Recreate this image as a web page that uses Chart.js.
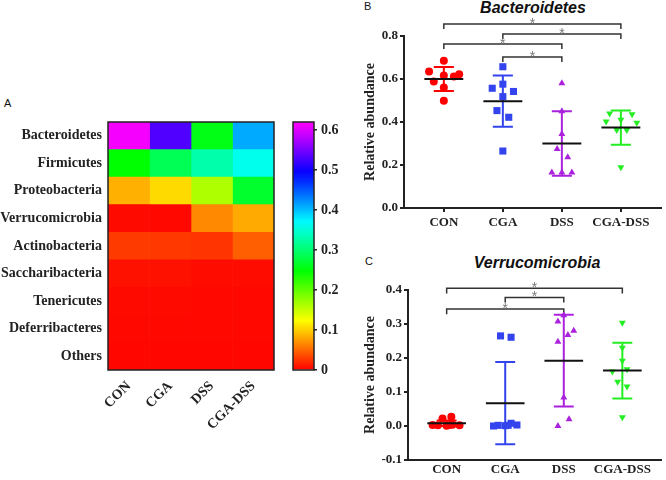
<!DOCTYPE html>
<html>
<head>
<meta charset="utf-8">
<script src="https://cdn.jsdelivr.net/npm/chart.js@4"></script>
<style>
  body { margin: 0; width: 666px; height: 480px; background: #fff; position: relative; overflow: hidden; font-family: 'Liberation Sans', Arial, sans-serif; }
  canvas { position: absolute; }
  .tag { position: absolute; font-size: 11px; color: #111; }
  .title { position: absolute; width: 200px; text-align: center; font: italic bold 16px 'Liberation Sans', Arial, sans-serif; color: #111; }
</style>
</head>
<body>
<div class="tag" style="left:4px;top:97px">A</div>
<div class="tag" style="left:364px;top:0px">B</div>
<div class="tag" style="left:365px;top:255px">C</div>
<div class="title" style="left:433px;top:-1px">Bacteroidetes</div>
<div class="title" style="left:437px;top:254px">Verrucomicrobia</div>
<canvas id="heat" width="280" height="380" style="left:0;top:100px"></canvas>
<canvas id="cbar" width="70" height="380" style="left:280px;top:100px"></canvas>
<canvas id="bact" width="326" height="240" style="left:340px;top:0"></canvas>
<canvas id="verr" width="326" height="240" style="left:340px;top:240px"></canvas>
<script>
// --- data ---
const groups = ['CON', 'CGA', 'DSS', 'CGA-DSS'];
const phyla = ['Bacteroidetes', 'Firmicutes', 'Proteobacteria', 'Verrucomicrobia', 'Actinobacteria',
               'Saccharibacteria', 'Tenericutes', 'Deferribacteres', 'Others'];

// heatmap: mean relative abundance per phylum (one array per group)
const heatCon    = [0.61, 0.246, 0.085, 0.005, 0.028, 0.008, 0.005, 0.004, 0.003];
const heatCga    = [0.53, 0.287, 0.105, 0.004, 0.027, 0.008, 0.005, 0.004, 0.003];
const heatDss    = [0.256, 0.328, 0.162, 0.066, 0.025, 0.006, 0.004, 0.004, 0.003];
const heatCgaDss = [0.41, 0.36, 0.267, 0.082, 0.046, 0.006, 0.004, 0.004, 0.003];
const colorTicks = [0, 0.1, 0.2, 0.3, 0.4, 0.5, 0.6];
const colorMax = 0.62;

// B: Bacteroidetes per mouse, horizontal jitter, mean and SD
const bactValues = [
  [0.685, 0.635, 0.616, 0.622, 0.612, 0.588, 0.56, 0.499],
  [0.657, 0.557, 0.576, 0.542, 0.518, 0.453, 0.422, 0.265],
  [0.58, 0.45, 0.344, 0.274, 0.236, 0.165, 0.165, 0.165],
  [0.44, 0.436, 0.402, 0.41, 0.397, 0.363, 0.363, 0.19]
];
const bactJitter = [
  [0, -0.25, 0, 0.26, 0.17, -0.17, 0, 0],
  [0, -0.18, 0, 0.18, 0, -0.1, 0.1, 0],
  [0, 0, 0, -0.08, 0.1, -0.17, 0, 0.17],
  [-0.19, 0.19, -0.25, 0, 0.27, -0.07, 0.1, 0]
];
const bactMean = [0.60, 0.497, 0.30, 0.374];
const bactSd = [0.056, 0.119, 0.15, 0.08];
const bactPairs = [[0, 3], [1, 3], [0, 2], [1, 2]];
const bactBracketY = [0.856, 0.809, 0.763, 0.702];
const bactTicks = [0, 0.2, 0.4, 0.6, 0.8];

// C: Verrucomicrobia
const verrValues = [
  [0.022, 0.027, 0.003, 0.002, 0.001, 0.004, 0.002, 0.003],
  [0.265, 0.261, 0.002, 0.001, 0.008, 0.0, 0.003, 0.002],
  [0.326, 0.307, 0.28, 0.268, 0.248, 0.084, 0.02, 0.0],
  [0.304, 0.23, 0.192, 0.16, 0.167, 0.13, 0.116, 0.026]
];
const verrJitter = [
  [-0.07, 0.08, -0.24, -0.15, 0, 0.1, 0.22, 0.05],
  [-0.08, 0.1, -0.12, 0, 0.1, -0.2, 0.2, 0.05],
  [0, -0.1, 0.17, 0.07, -0.1, 0, 0.09, -0.1],
  [0, 0, 0, -0.17, 0.08, -0.08, 0.08, 0]
];
const verrMean = [0.008, 0.067, 0.192, 0.163];
const verrSd = [0.008, 0.121, 0.135, 0.082];
const verrPairs = [[0, 3], [1, 2], [0, 2]];
const verrBracketY = [0.405, 0.378, 0.344];
const verrTicks = [-0.1, 0, 0.1, 0.2, 0.3, 0.4];

// --- styling ---
const serif = { family: "'Liberation Serif', 'Times New Roman', serif", weight: 'bold', size: 13 };
const serifBig = { ...serif, size: 14 };
const ink = '#222';
const groupColors = ['#ff0000', '#3344ee', '#aa22dd', '#22ee22'];
const groupStyles = [
  { pointStyle: 'circle', radius: 4, rotation: 0 },
  { pointStyle: 'rect', radius: 5, rotation: 0 },
  { pointStyle: 'triangle', radius: 4, rotation: 0 },
  { pointStyle: 'triangle', radius: 4, rotation: 180 }
];

Chart.defaults.font.family = serif.family;
Chart.defaults.color = ink;

// rainbow scale: red at 0 -> magenta at the top of the colour bar
function heatColor(v) {
  const h = Math.min(v / 0.615, 1) * 300;
  return `hsl(${h}, 100%, 50%)`;
}

const frame = {
  id: 'frame',
  afterDatasetsDraw(chart) {
    const a = chart.chartArea, c = chart.ctx;
    c.save();
    c.strokeStyle = ink;
    c.lineWidth = 1.5;
    c.strokeRect(a.left, a.top, a.right - a.left, a.bottom - a.top);
    c.restore();
  }
};

// A: heatmap as stacked horizontal bars, one dataset per group column
const heatCols = [heatCon, heatCga, heatDss, heatCgaDss];
new Chart(document.getElementById('heat'), {
  type: 'bar',
  data: {
    labels: phyla,
    datasets: heatCols.map((col, i) => ({
      label: groups[i],
      data: col.map(() => 1),
      backgroundColor: col.map(heatColor),
      borderWidth: 0,
      barPercentage: 1,
      categoryPercentage: 1
    }))
  },
  options: {
    indexAxis: 'y',
    responsive: false,
    animation: false,
    events: [],
    layout: { padding: { top: 22, right: 6, left: 0, bottom: 0 } },
    plugins: { legend: { display: false }, tooltip: { enabled: false } },
    scales: {
      x: {
        type: 'linear', stacked: true, min: 0, max: 4,
        afterBuildTicks: s => { s.ticks = groups.map((g, i) => ({ value: i + 0.5 })); },
        ticks: { callback: (v, i) => groups[i], minRotation: 45, maxRotation: 45, font: serifBig, color: ink, padding: 8 },
        grid: { display: false, drawTicks: false },
        border: { display: false },
        afterFit: s => { s.height = 110; }
      },
      y: {
        stacked: true,
        ticks: { font: serifBig, color: ink, padding: 6 },
        grid: { display: false, drawTicks: false },
        border: { display: false },
        afterFit: s => { s.width = 108; }
      }
    }
  },
  plugins: [frame]
});

// colour bar
new Chart(document.getElementById('cbar'), {
  type: 'bar',
  data: {
    labels: [''],
    datasets: [{
      data: [[0, colorMax]],
      backgroundColor: ctx => {
        const a = ctx.chart.chartArea;
        if (!a) return '#f00';
        const g = ctx.chart.ctx.createLinearGradient(0, a.bottom, 0, a.top);
        for (let k = 0; k <= 20; k++) g.addColorStop(k / 20, heatColor(colorMax * k / 20));
        return g;
      },
      borderWidth: 0,
      barPercentage: 1,
      categoryPercentage: 1
    }]
  },
  options: {
    responsive: false,
    animation: false,
    events: [],
    layout: { padding: { top: 22, right: 0, left: 13, bottom: 110 } },
    plugins: { legend: { display: false }, tooltip: { enabled: false } },
    scales: {
      x: { display: false },
      y: {
        position: 'right', min: 0, max: colorMax,
        afterBuildTicks: s => { s.ticks = colorTicks.map(v => ({ value: v })); },
        ticks: { callback: v => (v === 0 ? '0' : v.toFixed(1)), font: serifBig, color: ink, padding: 4 },
        grid: { drawOnChartArea: false, tickLength: 3, color: ink, lineWidth: 1.5 },
        border: { display: false },
        afterFit: s => { s.width = 36; }
      }
    }
  },
  plugins: [frame]
});

// B / C: dot plots with mean +/- SD and significance brackets
function dotPlot(id, cfg) {
  const datasets = [];
  cfg.mean.forEach((m, i) => {
    datasets.push({
      data: [{ x: i - 0.33, y: m }, { x: i + 0.33, y: m }],
      showLine: true, borderColor: '#111', borderWidth: 2, pointRadius: 0, order: 0, clip: false
    });
  });
  cfg.values.forEach((vals, i) => {
    const st = groupStyles[i];
    datasets.push({
      data: vals.map((v, k) => ({ x: i + cfg.jitter[i][k], y: v })),
      pointStyle: st.pointStyle, pointRadius: st.radius, rotation: st.rotation,
      backgroundColor: groupColors[i], borderWidth: 0, order: 1, clip: false
    });
  });
  cfg.mean.forEach((m, i) => {
    const hi = m + cfg.sd[i], lo = m - cfg.sd[i];
    datasets.push({
      data: [
        { x: i - 0.17, y: hi }, { x: i + 0.17, y: hi }, { x: i, y: null },
        { x: i, y: hi }, { x: i, y: lo }, { x: i, y: null },
        { x: i - 0.17, y: lo }, { x: i + 0.17, y: lo }
      ],
      showLine: true, spanGaps: false, borderColor: groupColors[i], borderWidth: 2,
      pointRadius: 0, order: 2, clip: false
    });
  });
  cfg.pairs.forEach(([a, b], j) => {
    const h = cfg.bracketY[j], d = cfg.drop;
    datasets.push({
      data: [{ x: a, y: h - d }, { x: a, y: h }, { x: b, y: h }, { x: b, y: h - d }],
      showLine: true, borderColor: '#333', borderWidth: 1.5, pointRadius: 0, order: 3, clip: false
    });
  });

  const stars = {
    id: 'stars',
    afterDatasetsDraw(chart) {
      const c = chart.ctx, xs = chart.scales.x, ys = chart.scales.y;
      c.save();
      c.fillStyle = '#777';
      c.font = "14px 'Liberation Sans', Arial, sans-serif";
      c.textAlign = 'center';
      cfg.pairs.forEach(([a, b], j) => {
        c.fillText('*', xs.getPixelForValue((a + b) / 2), ys.getPixelForValue(cfg.bracketY[j]) + 4);
      });
      c.restore();
    }
  };

  new Chart(document.getElementById(id), {
    type: 'scatter',
    data: { datasets },
    options: {
      responsive: false,
      animation: false,
      events: [],
      layout: { padding: { top: cfg.padTop, right: 3, left: 22, bottom: 0 } },
      plugins: { legend: { display: false }, tooltip: { enabled: false } },
      scales: {
        x: {
          type: 'linear', min: cfg.xMin, max: cfg.xMax,
          afterBuildTicks: s => { s.ticks = groups.map((g, i) => ({ value: i })); },
          ticks: { callback: (v, i) => groups[i], font: serif, color: ink, padding: cfg.xPad, maxRotation: 0 },
          grid: { drawOnChartArea: false, drawTicks: cfg.xTickLen > 0, tickLength: cfg.xTickLen, color: ink, lineWidth: 2 },
          border: { color: ink, width: 2 },
          afterFit: s => { s.height = cfg.xHeight; }
        },
        y: {
          min: cfg.ticks[0], max: cfg.ticks[cfg.ticks.length - 1],
          afterBuildTicks: s => { s.ticks = cfg.ticks.map(v => ({ value: v })); },
          ticks: { callback: v => v.toFixed(1), font: serif, color: ink, padding: 2 },
          grid: { drawOnChartArea: false, tickLength: 4, color: ink, lineWidth: 2 },
          border: { color: ink, width: 2 },
          title: { display: true, text: 'Relative abundance', font: serifBig, color: ink, padding: 0 },
          afterFit: s => { s.width = cfg.yWidth; }
        }
      }
    },
    plugins: [stars]
  });
}

dotPlot('bact', {
  values: bactValues, jitter: bactJitter, mean: bactMean, sd: bactSd,
  pairs: bactPairs, bracketY: bactBracketY, drop: 0.023, ticks: bactTicks,
  xMin: -0.675, xMax: 3.68, padTop: 36, yWidth: 42, xHeight: 32, xPad: 3, xTickLen: 4
});

dotPlot('verr', {
  values: verrValues, jitter: verrJitter, mean: verrMean, sd: verrSd,
  pairs: verrPairs, bracketY: verrBracketY, drop: 0.015, ticks: verrTicks,
  xMin: -0.66, xMax: 3.66, padTop: 50, yWidth: 46, xHeight: 20, xPad: 2, xTickLen: 0
});
</script>
</body>
</html>
